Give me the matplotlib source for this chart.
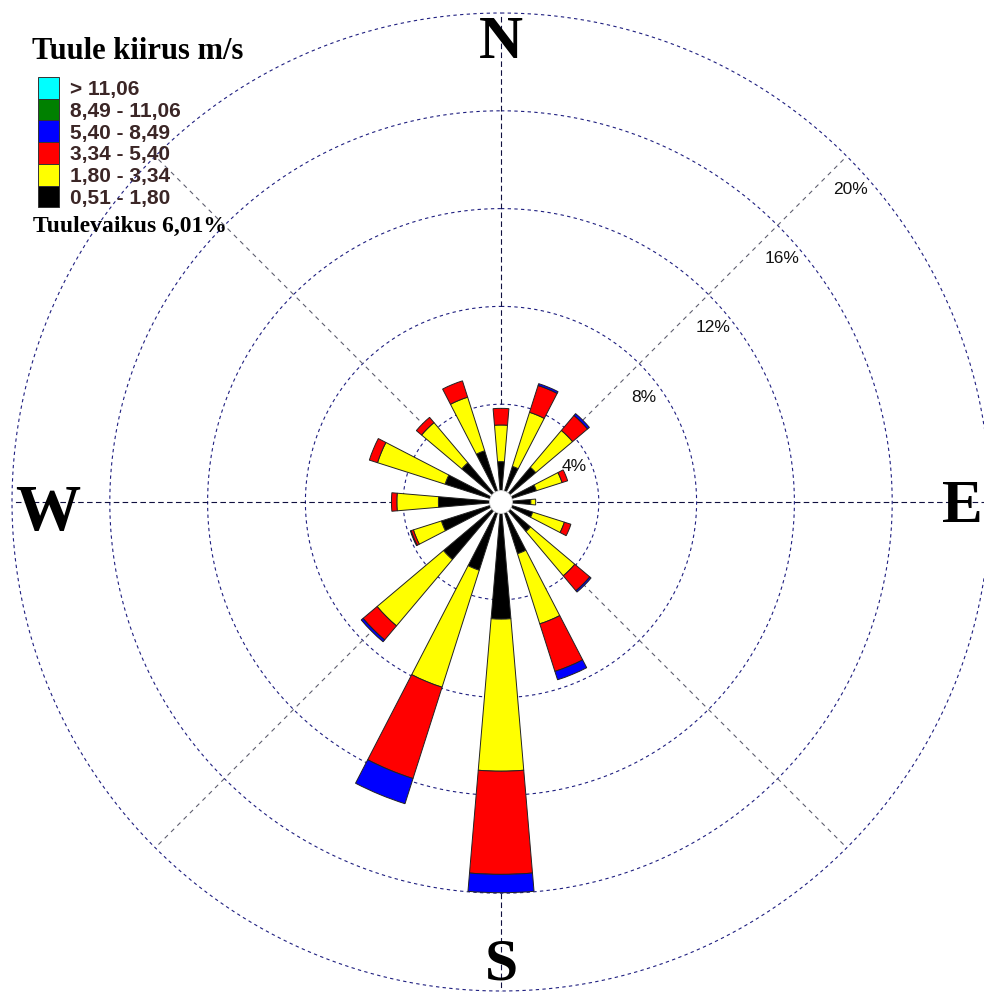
import numpy as np
import matplotlib
matplotlib.use("Agg")
import matplotlib.pyplot as plt
from matplotlib.patches import Rectangle

# ---- data -----------------------------------------------------------------
directions = ["N", "NNE", "NE", "ENE", "E", "ESE", "SE", "SSE",
              "S", "SSW", "SW", "WSW", "W", "WNW", "NW", "NNW"]
direction_deg = [0, 22.5, 45, 67.5, 90, 112.5, 135, 157.5,
                 180, 202.5, 225, 247.5, 270, 292.5, 315, 337.5]

speed_labels = ["0,51 - 1,80", "1,80 - 3,34", "3,34 - 5,40",
                "5,40 - 8,49", "8,49 - 11,06", "> 11,06"]
speed_colors = ["#000000", "#ffff00", "#ff0000", "#0000ff", "#008000", "#00ffff"]

# frequency (%) per direction for each wind speed class
freq_051_180 = [1.65, 1.53, 1.86, 1.52, 1.22, 1.36, 1.58, 2.22,
                4.79, 2.93, 3.08, 2.56, 2.56, 2.40, 2.10, 2.20]
freq_180_334 = [1.50, 2.32, 1.97, 1.10, 0.20, 1.36, 2.37, 3.01,
                6.22, 5.02, 3.55, 1.20, 1.70, 2.90, 2.15, 2.30]
freq_334_540 = [0.68, 1.15, 0.80, 0.24, 0.00, 0.28, 0.80, 2.04,
                4.22, 3.92, 0.75, 0.10, 0.22, 0.35, 0.28, 0.70]
freq_540_849 = [0.00, 0.08, 0.10, 0.00, 0.00, 0.00, 0.07, 0.36,
                0.75, 1.08, 0.10, 0.03, 0.00, 0.00, 0.00, 0.00]
freq_849_1106 = [0.0] * 16
freq_over_1106 = [0.0] * 16

calm_percent = 6.01
ring_levels = [4, 8, 12, 16, 20]
compass_labels = ["N", "E", "S", "W"]

# ---- figure ---------------------------------------------------------------
W, H, DPI = 984, 992, 100
fig = plt.figure(figsize=(W / DPI, H / DPI), dpi=DPI, facecolor="white")


def fx(px):
    return px / W


def fy(py):
    return 1 - py / H


cx, cy, R = 501, 502, 489  # rose centre and 20 % ring radius in pixels
r_axis = 20.3                # a little room beyond the outer ring
Ra = R * r_axis / ring_levels[-1]
ax = fig.add_axes([fx(cx - Ra), fy(cy + Ra), 2 * Ra / W, 2 * Ra / H],
                  projection="polar")
ax.set_theta_zero_location("N")
ax.set_theta_direction(-1)
ax.set_ylim(0, r_axis)
ax.set_xticks([])
ax.set_yticks([])
ax.grid(False)
ax.spines["polar"].set_visible(False)
ax.patch.set_visible(False)

# dashed rings
t = np.linspace(0, 2 * np.pi, 1441)
for lvl in ring_levels:
    ax.plot(t, np.full_like(t, lvl), color="#1f1f80", lw=0.8,
            ls=(0, (3, 3)), zorder=1)

# dashed spokes
for a in range(0, 360, 45):
    main = a % 90 == 0
    ax.plot([np.deg2rad(a)] * 2, [0, ring_levels[-1]],
            color="#101040" if main else "#606070",
            lw=0.8, ls=(0, (5, 3)) if main else (0, (4, 4)), zorder=1)

# stacked wind-speed wedges
theta = np.deg2rad(direction_deg)
width = np.deg2rad(9.7)
classes = [freq_051_180, freq_180_334, freq_334_540,
           freq_540_849, freq_849_1106, freq_over_1106]
bottom = np.zeros(len(directions))
for vals, col in zip(classes, speed_colors):
    vals = np.asarray(vals, dtype=float)
    m = vals > 0
    ax.bar(theta[m], vals[m], width=width, bottom=bottom[m], color=col,
           edgecolor="#222222", linewidth=0.7, zorder=3)
    bottom += vals

# calm circle in the middle
ax.bar(0, 0.47, width=2 * np.pi, bottom=0, color="white",
       edgecolor="none", zorder=4)
ax.plot(t, np.full_like(t, 0.47), color="#c8c8c8", lw=0.6, zorder=5)

# ring labels along the NE spoke
for lvl in ring_levels:
    ax.annotate(f"{lvl}%", xy=(np.deg2rad(45), lvl),
                xytext=(3, -24), textcoords="offset points",
                ha="center", va="center", fontsize=12.5,
                family="Liberation Sans", color="#111111", zorder=6)

# compass letters
letter_pos = {"N": (500.5, 58), "E": (962, 522), "S": (501, 979), "W": (47.5, 530)}
letter_size = {"N": 44, "E": 44, "S": 43, "W": 47}
for lab in compass_labels:
    x, y = letter_pos[lab]
    fig.text(fx(x), fy(y), lab, ha="center", va="baseline",
             fontsize=letter_size[lab], family="Liberation Serif",
             fontweight="bold", color="black")

# legend
fig.text(fx(32), fy(59), "Tuule kiirus m/s", ha="left", va="baseline",
         fontsize=22, family="Liberation Serif", fontweight="bold")
row_h = 21.7
top = 77
for i, (lab, col) in enumerate(zip(speed_labels[::-1], speed_colors[::-1])):
    y0 = top + i * row_h
    fig.patches.append(Rectangle((fx(38), fy(y0 + row_h)), 21 / W, row_h / H,
                                 transform=fig.transFigure, facecolor=col,
                                 edgecolor="#333333", linewidth=0.7))
    fig.text(fx(70), fy(y0 + row_h / 2 + 7.3), lab, ha="left", va="baseline",
             fontsize=15, family="Liberation Sans", fontweight="bold",
             color="#3b2626")
fig.text(fx(33), fy(232), f"Tuulevaikus {calm_percent:.2f}%".replace(".", ","),
         ha="left", va="baseline", fontsize=17, family="Liberation Serif",
         fontweight="bold")

fig.savefig("out.png", dpi=DPI, facecolor="white")
